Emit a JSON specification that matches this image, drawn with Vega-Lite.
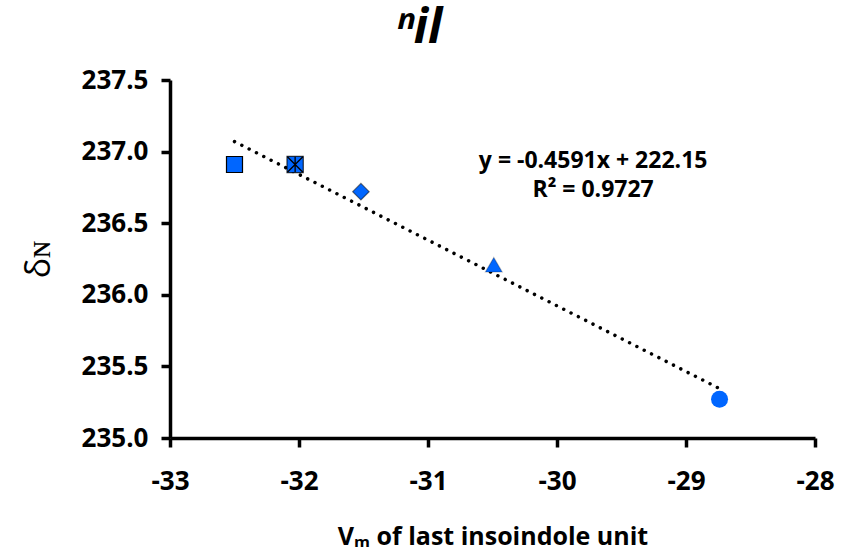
{
  "$schema": "https://vega.github.io/schema/vega-lite/v6.json",
  "width": 645,
  "height": 358,
  "autosize": {"type": "none"},
  "padding": {"left": 170, "top": 80, "right": 27, "bottom": 116},
  "background": "white",
  "config": {"view": {"stroke": null}, "font": "Open Sans"},
  "title": {
    "text": "ⁿil",
    "font": "Open Sans",
    "fontSize": 48,
    "fontWeight": "bold",
    "fontStyle": "italic",
    "color": "black",
    "anchor": "middle",
    "frame": "group",
    "dx": -74,
    "dy": 54,
    "baseline": "bottom",
    "offset": 20
  },
  "datasets": {
    "points": [
      {"vm": -32.5, "delta": 236.91, "series": "A"},
      {"vm": -32.03, "delta": 236.91, "series": "B"},
      {"vm": -31.52, "delta": 236.72, "series": "C"},
      {"vm": -30.49, "delta": 236.21, "series": "D"},
      {"vm": -28.74, "delta": 235.27, "series": "E"}
    ],
    "trend": [
      {"vm": -32.5, "delta": 237.07},
      {"vm": -28.74, "delta": 235.345}
    ],
    "eq": [
      {"vm": -29.72, "delta": 236.885, "label": "y = -0.4591x + 222.15"},
      {"vm": -29.72, "delta": 236.68, "label": "R² = 0.9727"}
    ]
  },
  "encoding": {
    "x": {
      "field": "vm",
      "type": "quantitative",
      "scale": {"domain": [-33, -28], "nice": false, "zero": false},
      "axis": {
        "title": "Vₘ of last insoindole unit",
        "titleFont": "Open Sans",
        "titleFontSize": 25,
        "titleFontWeight": "bold",
        "titleColor": "black",
        "titleX": 322.5,
        "titleY": 106,
        "titleAlign": "center",
        "titleBaseline": "alphabetic",
        "values": [-33, -32, -31, -30, -29, -28],
        "labelExpr": "replace(format(datum.value, 'd'), '\u2212', '-')",
        "grid": false,
        "domainColor": "black",
        "domainWidth": 3.5,
        "tickColor": "black",
        "tickWidth": 3.5,
        "tickSize": 9,
        "labelFont": "Open Sans",
        "labelFontSize": 26,
        "labelFontWeight": "bold",
        "labelColor": "black",
        "labelBaseline": "alphabetic",
        "labelPadding": 42,
        "labelFlush": false,
        "labelOverlap": false
      }
    },
    "y": {
      "field": "delta",
      "type": "quantitative",
      "scale": {"domain": [235, 237.5], "nice": false, "zero": false},
      "axis": {
        "title": "δɴ",
        "titleFont": "Open Sans",
        "titleFontSize": 34,
        "titleFontWeight": "normal",
        "titleColor": "black",
        "titleAngle": -90,
        "titleX": -131,
        "titleY": 179,
        "titleAlign": "center",
        "titleBaseline": "middle",
        "values": [235, 235.5, 236, 236.5, 237, 237.5],
        "format": ".1f",
        "grid": false,
        "domainColor": "black",
        "domainWidth": 3.5,
        "tickColor": "black",
        "tickWidth": 3.5,
        "tickSize": 9,
        "labelFont": "Open Sans",
        "labelFontSize": 26,
        "labelFontWeight": "bold",
        "labelColor": "black",
        "labelPadding": 13,
        "labelFlush": false,
        "labelOverlap": false
      }
    }
  },
  "layer": [
    {
      "data": {"name": "trend"},
      "mark": {"type": "line", "color": "black", "strokeWidth": 3.5, "strokeDash": [0.01, 8.2], "strokeCap": "round", "clip": false}
    },
    {
      "data": {"name": "points"},
      "mark": {"type": "point", "filled": true, "opacity": 1, "fill": "#0066ff", "stroke": "black", "strokeWidth": 1.2},
      "encoding": {
        "shape": {
          "field": "series",
          "type": "nominal",
          "scale": {"domain": ["A", "B", "C", "D", "E"], "range": ["square", "square", "diamond", "triangle-up", "circle"]},
          "legend": null
        },
        "size": {
          "field": "series",
          "type": "nominal",
          "scale": {"domain": ["A", "B", "C", "D", "E"], "range": [256, 289, 256, 240, 289]},
          "legend": null
        },
        "strokeOpacity": {
          "field": "series",
          "type": "nominal",
          "scale": {"domain": ["A", "B", "C", "D", "E"], "range": [1, 0, 1, 1, 1]},
          "legend": null
        }
      }
    },
    {
      "data": {"name": "points"},
      "transform": [{"filter": "datum.series === 'B'"}],
      "mark": {"type": "point", "filled": false, "shape": "M-1,-1L1,1M-1,1L1,-1M0,-1L0,1", "size": 240, "stroke": "black", "strokeWidth": 1.3, "opacity": 1}
    },
    {
      "data": {"name": "eq"},
      "mark": {"type": "text", "font": "Open Sans", "fontSize": 23, "fontWeight": "bold", "color": "black", "align": "center", "baseline": "alphabetic"},
      "encoding": {"text": {"field": "label"}}
    }
  ]
}
